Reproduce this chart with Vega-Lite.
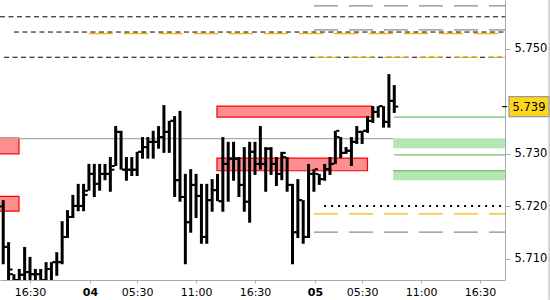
{
  "$schema": "https://vega.github.io/schema/vega-lite/v6.json",
  "width": 505,
  "height": 280,
  "autosize": {"type": "none"},
  "padding": {"left": 0, "top": 0, "right": 45, "bottom": 20},
  "background": "white",
  "config": {"view": {"stroke": null}, "font": "DejaVu Sans"},
  "datasets": {
    "bars": [
      {"i":0,"o":5.7200,"h":5.7212,"l":5.7090,"c":5.7123},
      {"i":1,"o":5.7123,"h":5.7132,"l":5.7050,"c":5.7080},
      {"i":2,"o":5.7071,"h":5.7071,"l":5.7050,"c":5.7060},
      {"i":3,"o":5.7060,"h":5.7081,"l":5.7050,"c":5.7070},
      {"i":4,"o":5.7070,"h":5.7123,"l":5.7050,"c":5.7075},
      {"i":5,"o":5.7075,"h":5.7104,"l":5.7050,"c":5.7071},
      {"i":6,"o":5.7071,"h":5.7081,"l":5.7050,"c":5.7071},
      {"i":7,"o":5.7071,"h":5.7081,"l":5.7050,"c":5.7060},
      {"i":8,"o":5.7060,"h":5.7094,"l":5.7050,"c":5.7081},
      {"i":9,"o":5.7081,"h":5.7094,"l":5.7050,"c":5.7094},
      {"i":10,"o":5.7094,"h":5.7113,"l":5.7068,"c":5.7094},
      {"i":11,"o":5.7094,"h":5.7172,"l":5.7090,"c":5.7142},
      {"i":12,"o":5.7142,"h":5.7193,"l":5.7140,"c":5.7180},
      {"i":13,"o":5.7180,"h":5.7222,"l":5.7178,"c":5.7201},
      {"i":14,"o":5.7201,"h":5.7243,"l":5.7191,"c":5.7201},
      {"i":15,"o":5.7201,"h":5.7243,"l":5.7191,"c":5.7222},
      {"i":16,"o":5.7230,"h":5.7281,"l":5.7230,"c":5.7262},
      {"i":17,"o":5.7262,"h":5.7281,"l":5.7218,"c":5.7243},
      {"i":18,"o":5.7243,"h":5.7281,"l":5.7230,"c":5.7262},
      {"i":19,"o":5.7262,"h":5.7281,"l":5.7250,"c":5.7262},
      {"i":20,"o":5.7262,"h":5.7294,"l":5.7228,"c":5.7270},
      {"i":21,"o":5.7277,"h":5.7353,"l":5.7277,"c":5.7342},
      {"i":22,"o":5.7342,"h":5.7344,"l":5.7270,"c":5.7270},
      {"i":23,"o":5.7270,"h":5.7294,"l":5.7249,"c":5.7270},
      {"i":24,"o":5.7270,"h":5.7294,"l":5.7258,"c":5.7270},
      {"i":25,"o":5.7270,"h":5.7304,"l":5.7258,"c":5.7304},
      {"i":26,"o":5.7304,"h":5.7332,"l":5.7291,"c":5.7313},
      {"i":27,"o":5.7313,"h":5.7332,"l":5.7291,"c":5.7323},
      {"i":28,"o":5.7323,"h":5.7344,"l":5.7291,"c":5.7323},
      {"i":29,"o":5.7323,"h":5.7353,"l":5.7310,"c":5.7332},
      {"i":30,"o":5.7332,"h":5.7393,"l":5.7302,"c":5.7342},
      {"i":31,"o":5.7342,"h":5.7363,"l":5.7302,"c":5.7363},
      {"i":32,"o":5.7363,"h":5.7372,"l":5.7218,"c":5.7250},
      {"i":33,"o":5.7250,"h":5.7382,"l":5.7209,"c":5.7218},
      {"i":34,"o":5.7218,"h":5.7262,"l":5.7090,"c":5.7170},
      {"i":35,"o":5.7170,"h":5.7271,"l":5.7150,"c":5.7241},
      {"i":36,"o":5.7241,"h":5.7262,"l":5.7178,"c":5.7220},
      {"i":37,"o":5.7220,"h":5.7243,"l":5.7129,"c":5.7142},
      {"i":38,"o":5.7142,"h":5.7243,"l":5.7129,"c":5.7212},
      {"i":39,"o":5.7212,"h":5.7252,"l":5.7190,"c":5.7231},
      {"i":40,"o":5.7231,"h":5.7262,"l":5.7210,"c":5.7210},
      {"i":41,"o":5.7210,"h":5.7332,"l":5.7190,"c":5.7281},
      {"i":42,"o":5.7281,"h":5.7323,"l":5.7209,"c":5.7291},
      {"i":43,"o":5.7291,"h":5.7323,"l":5.7249,"c":5.7291},
      {"i":44,"o":5.7291,"h":5.7294,"l":5.7218,"c":5.7241},
      {"i":45,"o":5.7241,"h":5.7313,"l":5.7190,"c":5.7209},
      {"i":46,"o":5.7209,"h":5.7323,"l":5.7169,"c":5.7304},
      {"i":47,"o":5.7304,"h":5.7323,"l":5.7260,"c":5.7281},
      {"i":48,"o":5.7281,"h":5.7353,"l":5.7270,"c":5.7281},
      {"i":49,"o":5.7281,"h":5.7313,"l":5.7228,"c":5.7310},
      {"i":50,"o":5.7310,"h":5.7313,"l":5.7260,"c":5.7281},
      {"i":51,"o":5.7281,"h":5.7294,"l":5.7239,"c":5.7262},
      {"i":52,"o":5.7262,"h":5.7304,"l":5.7250,"c":5.7302},
      {"i":53,"o":5.7294,"h":5.7294,"l":5.7228,"c":5.7241},
      {"i":54,"o":5.7241,"h":5.7243,"l":5.7090,"c":5.7151},
      {"i":55,"o":5.7151,"h":5.7252,"l":5.7140,"c":5.7212},
      {"i":56,"o":5.7212,"h":5.7212,"l":5.7129,"c":5.7142},
      {"i":57,"o":5.7142,"h":5.7281,"l":5.7140,"c":5.7262},
      {"i":58,"o":5.7262,"h":5.7271,"l":5.7228,"c":5.7271},
      {"i":59,"o":5.7262,"h":5.7262,"l":5.7241,"c":5.7252},
      {"i":60,"o":5.7252,"h":5.7281,"l":5.7249,"c":5.7271},
      {"i":61,"o":5.7271,"h":5.7294,"l":5.7260,"c":5.7281},
      {"i":62,"o":5.7281,"h":5.7344,"l":5.7281,"c":5.7344},
      {"i":63,"o":5.7332,"h":5.7332,"l":5.7292,"c":5.7302},
      {"i":64,"o":5.7302,"h":5.7313,"l":5.7300,"c":5.7306},
      {"i":65,"o":5.7306,"h":5.7332,"l":5.7277,"c":5.7323},
      {"i":66,"o":5.7323,"h":5.7353,"l":5.7319,"c":5.7342},
      {"i":67,"o":5.7342,"h":5.7344,"l":5.7319,"c":5.7344},
      {"i":68,"o":5.7344,"h":5.7372,"l":5.7340,"c":5.7363},
      {"i":69,"o":5.7363,"h":5.7391,"l":5.7359,"c":5.7380},
      {"i":70,"o":5.7380,"h":5.7391,"l":5.7369,"c":5.7391},
      {"i":71,"o":5.7391,"h":5.7391,"l":5.7350,"c":5.7361},
      {"i":72,"o":5.7361,"h":5.7452,"l":5.7350,"c":5.7401},
      {"i":73,"o":5.7401,"h":5.7431,"l":5.7378,"c":5.7390}
    ],
    "zones": [
      {"kind":"red","x1":-2,"x2":2.95,"p1":5.7300,"p2":5.7330},
      {"kind":"red","x1":-2,"x2":2.95,"p1":5.7191,"p2":5.7219},
      {"kind":"red","x1":39.9,"x2":68.8,"p1":5.7370,"p2":5.7391},
      {"kind":"red","x1":39.9,"x2":68.0,"p1":5.7268,"p2":5.7292},
      {"kind":"green","x1":72.8,"x2":95,"p1":5.7311,"p2":5.7330},
      {"kind":"green","x1":72.8,"x2":95,"p1":5.7250,"p2":5.7268}
    ],
    "levels": [
      {"kind":"graySolid","p":5.7329,"x1":-0.6,"x2":72.8},
      {"kind":"blackDash","p":5.7561,"x1":-0.6,"x2":93.67},
      {"kind":"blackDash","p":5.7532,"x1":2.0,"x2":93.67},
      {"kind":"blackDash","p":5.7484,"x1":0.15,"x2":93.67},
      {"kind":"grayDash","p":5.7582,"x1":58.0,"x2":93.67},
      {"kind":"grayDash","p":5.7536,"x1":58.0,"x2":93.67},
      {"kind":"grayDash","p":5.7151,"x1":58.0,"x2":93.67},
      {"kind":"orangeDash","p":5.7529,"x1":16.0,"x2":93.67},
      {"kind":"orangeDash","p":5.7484,"x1":58.0,"x2":93.67},
      {"kind":"orangeDash","p":5.7186,"x1":58.0,"x2":93.67},
      {"kind":"blackDot","p":5.7201,"x1":59.9,"x2":93.67},
      {"kind":"greenLine","p":5.7370,"x1":72.95,"x2":93.67},
      {"kind":"greenLine","p":5.7298,"x1":72.95,"x2":93.67},
      {"kind":"greenEdge","p":5.7268,"x1":72.8,"x2":93.67}
    ],
    "tag": [{"p":5.739,"label":"5.739"}],
    "edge": [{"p":5.76,"label":"5.760"}],
    "border": [{"x":101.9,"lo":5.7022,"hi":5.7593}]
  },
  "encoding": {
    "x": {"type": "quantitative"},
    "y": {"type": "quantitative"}
  },
  "layer": [
    {
      "data": {"name": "zones"},
      "transform": [{"filter": "datum.kind == 'green'"}],
      "mark": {"type": "rect", "fill": "#b4e6b4", "clip": true},
      "encoding": {
        "x": {"field": "x1", "type": "quantitative", "scale": {"domain": [-0.6, 93.67], "nice": false, "zero": false},
          "axis": {"orient": "bottom", "title": null, "grid": false,
            "values": [5, 16.2, 25, 36, 47, 58.2, 67, 78, 89],
            "labelExpr": "datum.value == 5 ? '16:30' : datum.value == 16.2 ? '04' : datum.value == 25 ? '05:30' : datum.value == 36 ? '11:00' : datum.value == 47 ? '16:30' : datum.value == 58.2 ? '05' : datum.value == 67 ? '05:30' : datum.value == 78 ? '11:00' : '16:30'",
            "labelFontWeight": {"condition": {"test": "datum.value == 16.2 || datum.value == 58.2", "value": "bold"}, "value": "normal"},
            "labelFont": "DejaVu Sans", "labelFontSize": 11, "labelColor": "#000000",
            "domainColor": "#aaaaaa", "tickColor": "#aaaaaa", "tickSize": 3, "labelPadding": 3,
            "labelFlush": false, "labelOverlap": false}},
        "x2": {"field": "x2"},
        "y": {"field": "p1", "type": "quantitative", "scale": {"domain": [5.706, 5.7593], "nice": false, "zero": false},
          "axis": {"orient": "right", "title": null, "grid": false,
            "values": [5.71, 5.72, 5.73, 5.75], "format": ".3f",
            "labelFont": "DejaVu Sans", "labelFontSize": 11.5, "labelColor": "#000000",
            "domainColor": "#aaaaaa", "tickColor": "#aaaaaa", "tickSize": 5, "labelPadding": 4}},
        "y2": {"field": "p2"}
      }
    },
    {
      "data": {"name": "zones"},
      "transform": [{"filter": "datum.kind == 'red'"}],
      "mark": {"type": "rect", "fill": "#ff8f8f", "stroke": "#ff0000", "strokeWidth": 1.2, "clip": true},
      "encoding": {
        "x": {"field": "x1", "type": "quantitative"},
        "x2": {"field": "x2"},
        "y": {"field": "p1", "type": "quantitative"},
        "y2": {"field": "p2"}
      }
    },
    {
      "data": {"name": "levels"},
      "transform": [{"filter": "datum.kind == 'graySolid'"}],
      "mark": {"type": "rule", "color": "#aaaaaa", "strokeWidth": 1.2, "clip": true},
      "encoding": {"x": {"field": "x1", "type": "quantitative"}, "x2": {"field": "x2"}, "y": {"field": "p", "type": "quantitative"}}
    },
    {
      "data": {"name": "levels"},
      "transform": [{"filter": "datum.kind == 'blackDash'"}],
      "mark": {"type": "rule", "color": "#000000", "strokeWidth": 1, "strokeDash": [5, 3.5], "clip": true},
      "encoding": {"x": {"field": "x1", "type": "quantitative"}, "x2": {"field": "x2"}, "y": {"field": "p", "type": "quantitative"}}
    },
    {
      "data": {"name": "levels"},
      "transform": [{"filter": "datum.kind == 'grayDash'"}],
      "mark": {"type": "rule", "color": "#8c8c8c", "strokeWidth": 1.2, "strokeDash": [24, 11], "clip": true},
      "encoding": {"x": {"field": "x1", "type": "quantitative"}, "x2": {"field": "x2"}, "y": {"field": "p", "type": "quantitative"}}
    },
    {
      "data": {"name": "levels"},
      "transform": [{"filter": "datum.kind == 'orangeDash'"}],
      "mark": {"type": "rule", "color": "#f5b400", "strokeWidth": 1.2, "strokeDash": [24, 11], "clip": true},
      "encoding": {"x": {"field": "x1", "type": "quantitative"}, "x2": {"field": "x2"}, "y": {"field": "p", "type": "quantitative"}}
    },
    {
      "data": {"name": "levels"},
      "transform": [{"filter": "datum.kind == 'blackDot'"}],
      "mark": {"type": "rule", "color": "#000000", "strokeWidth": 2, "strokeDash": [2, 5], "clip": true},
      "encoding": {"x": {"field": "x1", "type": "quantitative"}, "x2": {"field": "x2"}, "y": {"field": "p", "type": "quantitative"}}
    },
    {
      "data": {"name": "levels"},
      "transform": [{"filter": "datum.kind == 'greenLine'"}],
      "mark": {"type": "rule", "color": "#6cc46c", "strokeWidth": 1.2, "clip": true},
      "encoding": {"x": {"field": "x1", "type": "quantitative"}, "x2": {"field": "x2"}, "y": {"field": "p", "type": "quantitative"}}
    },
    {
      "data": {"name": "levels"},
      "transform": [{"filter": "datum.kind == 'greenEdge'"}],
      "mark": {"type": "rule", "color": "#4cb04c", "strokeWidth": 1.2, "clip": true},
      "encoding": {"x": {"field": "x1", "type": "quantitative"}, "x2": {"field": "x2"}, "y": {"field": "p", "type": "quantitative"}}
    },
    {
      "data": {"name": "bars"},
      "mark": {"type": "rule", "color": "#000000", "strokeWidth": 3, "strokeCap": "butt", "clip": true},
      "encoding": {"x": {"field": "i", "type": "quantitative"}, "y": {"field": "l", "type": "quantitative"}, "y2": {"field": "h"}}
    },
    {
      "data": {"name": "bars"},
      "mark": {"type": "tick", "orient": "horizontal", "color": "#000000", "size": 3, "thickness": 2, "xOffset": -2.5, "opacity": 1, "clip": true},
      "encoding": {"x": {"field": "i", "type": "quantitative"}, "y": {"field": "o", "type": "quantitative"}}
    },
    {
      "data": {"name": "bars"},
      "mark": {"type": "tick", "orient": "horizontal", "color": "#000000", "size": 3, "thickness": 2, "xOffset": 2.5, "opacity": 1, "clip": true},
      "encoding": {"x": {"field": "i", "type": "quantitative"}, "y": {"field": "c", "type": "quantitative"}}
    },
    {
      "data": {"name": "border"},
      "mark": {"type": "rule", "color": "#b0b0b0", "strokeWidth": 1},
      "encoding": {"x": {"field": "x", "type": "quantitative"}, "y": {"field": "lo", "type": "quantitative"}, "y2": {"field": "hi"}}
    },
    {
      "data": {"name": "edge"},
      "mark": {"type": "text", "font": "DejaVu Sans", "fontSize": 11.5, "color": "#000000", "align": "left", "baseline": "middle", "dx": 10},
      "encoding": {"x": {"datum": 93.67, "type": "quantitative"}, "y": {"field": "p", "type": "quantitative"}, "text": {"field": "label"}}
    },
    {
      "data": {"name": "tag"},
      "mark": {"type": "tick", "orient": "horizontal", "color": "#000000", "size": 5, "thickness": 1.2, "opacity": 1},
      "encoding": {"x": {"datum": 93.6, "type": "quantitative"}, "y": {"field": "p", "type": "quantitative"}}
    },
    {
      "data": {"name": "tag"},
      "mark": {"type": "rect", "fill": "#ffd41c", "stroke": "#9a9a9a", "strokeWidth": 1.2, "width": 40, "height": 20},
      "encoding": {"x": {"datum": 98.15, "type": "quantitative"}, "y": {"field": "p", "type": "quantitative"}}
    },
    {
      "data": {"name": "tag"},
      "mark": {"type": "text", "font": "DejaVu Sans", "fontSize": 11.5, "color": "#000000", "align": "center", "baseline": "middle", "dy": 1},
      "encoding": {"x": {"datum": 98.15, "type": "quantitative"}, "y": {"field": "p", "type": "quantitative"}, "text": {"field": "label"}}
    }
  ]
}
